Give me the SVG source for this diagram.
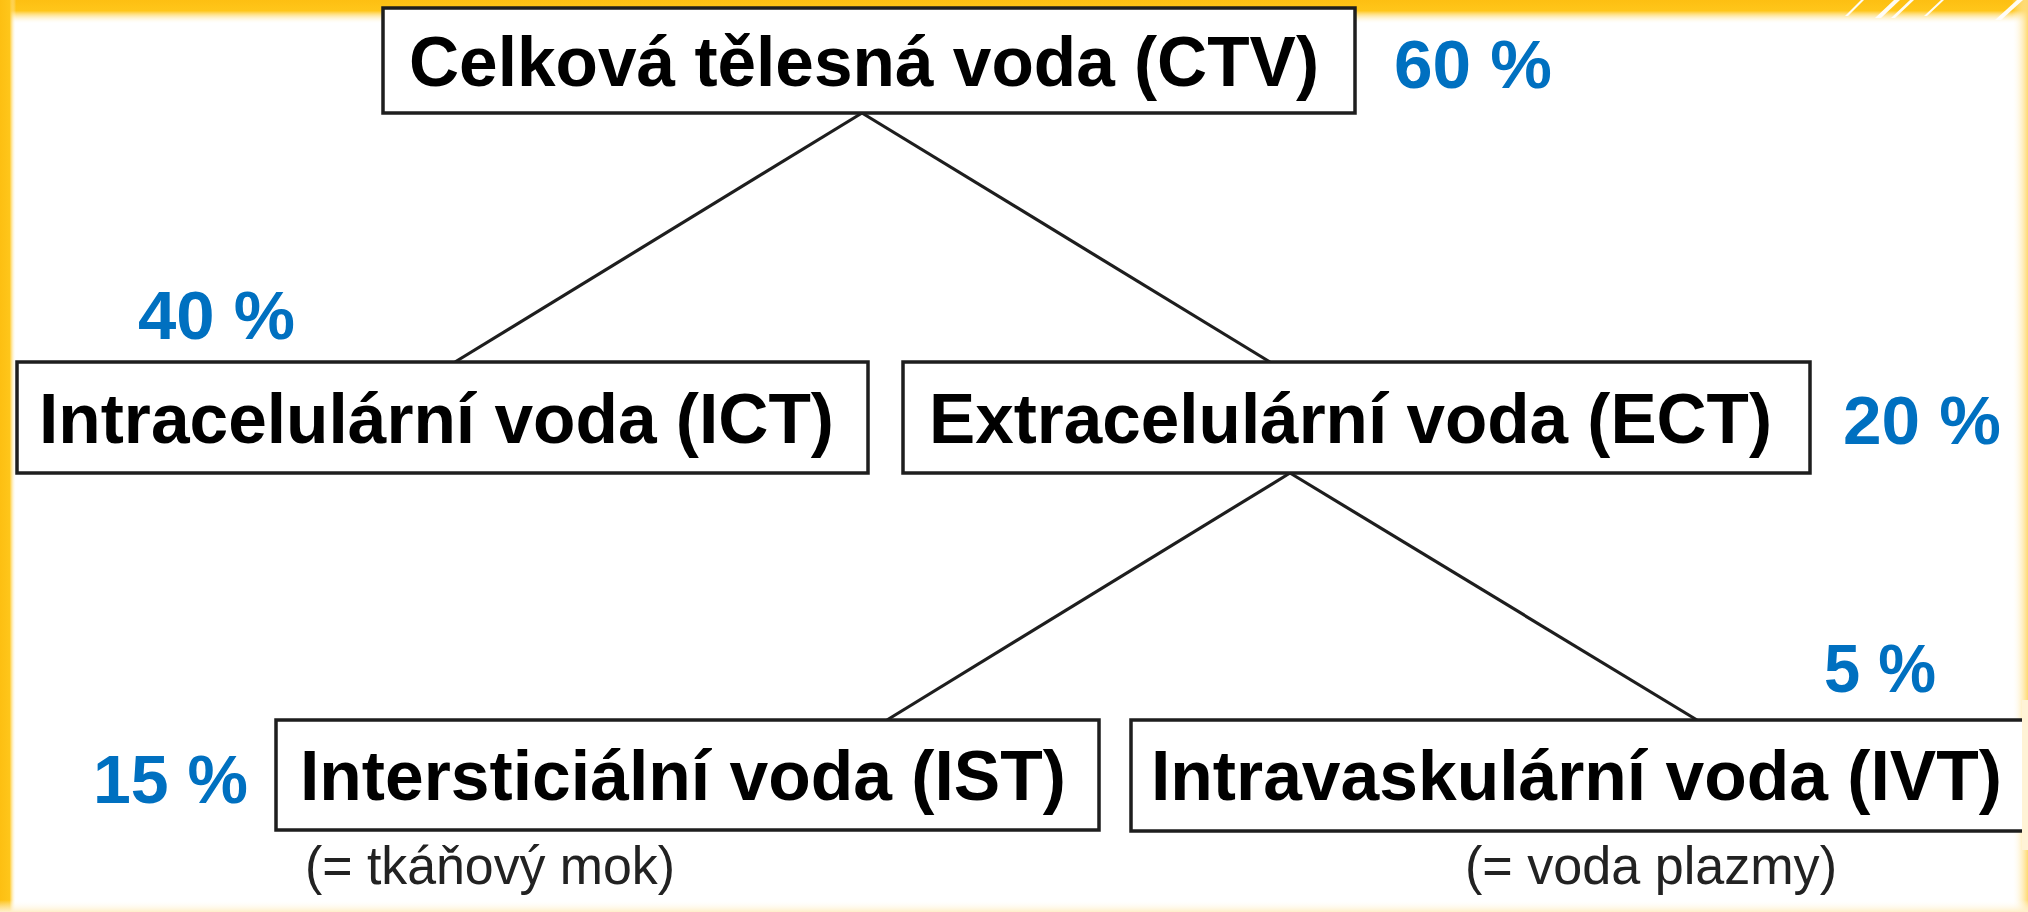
<svg xmlns="http://www.w3.org/2000/svg" width="2028" height="912" viewBox="0 0 2028 912">
  <defs>
    <linearGradient id="gTop" x1="0" y1="0" x2="0" y2="1">
      <stop offset="0" stop-color="#FDBF12"/>
      <stop offset="0.45" stop-color="#FFC61A"/>
      <stop offset="1" stop-color="#FFFFFF" stop-opacity="0"/>
    </linearGradient>
    <linearGradient id="gLeft" x1="0" y1="0" x2="1" y2="0">
      <stop offset="0" stop-color="#FDBF12"/>
      <stop offset="0.6" stop-color="#FFC61A"/>
      <stop offset="1" stop-color="#FFFFFF" stop-opacity="0"/>
    </linearGradient>
    <linearGradient id="gRight" x1="1" y1="0" x2="0" y2="0">
      <stop offset="0" stop-color="#FFD970"/>
      <stop offset="1" stop-color="#FFFFFF" stop-opacity="0"/>
    </linearGradient>
    <linearGradient id="gBottom" x1="0" y1="1" x2="0" y2="0">
      <stop offset="0" stop-color="#FFEFC8"/>
      <stop offset="1" stop-color="#FFFFFF" stop-opacity="0"/>
    </linearGradient>
  </defs>
  <style>
    .box { fill: #FFFFFF; stroke: #1E1E1E; stroke-width: 3.5; }
    .lbl { font-family: "Liberation Sans", Arial, sans-serif; font-weight: bold; font-size: 70px; fill: #000000; }
    .pct { font-family: "Liberation Sans", Arial, sans-serif; font-weight: bold; font-size: 69px; fill: #0070C0; }
    .sub { font-family: "Liberation Sans", Arial, sans-serif; font-size: 54px; fill: #222222; }
    .conn line { stroke: #1E1E1E; stroke-width: 3.2; }
  </style>

  <!-- background and frame -->
  <rect x="0" y="0" width="2028" height="912" fill="#FFFFFF"/>
  <rect x="0" y="0" width="2028" height="24" fill="url(#gTop)"/>
  <rect x="0" y="0" width="16" height="912" fill="url(#gLeft)"/>
  <rect x="2012" y="0" width="16" height="912" fill="url(#gRight)"/>
  <rect x="0" y="900" width="2028" height="12" fill="url(#gBottom)"/>
  <g fill="#FFFFFF" opacity="0.95">
    <polygon points="1845,16 1848,16 1864,0 1861,0"/>
    <polygon points="1875,18 1881,18 1900,0 1894,0"/>
    <polygon points="1891,18 1895,18 1914,0 1910,0"/>
    <polygon points="1924,16 1927,16 1944,0 1941,0"/>
    <polygon points="1995,20 2001,20 2023,0 2017,0"/>
  </g>

  <!-- connectors -->
  <g id="connectors" class="conn">
    <line x1="862" y1="113" x2="455" y2="362"/>
    <line x1="862" y1="113" x2="1270" y2="362"/>
    <line x1="1290" y1="473" x2="887" y2="720"/>
    <line x1="1290" y1="473" x2="1697" y2="720"/>
  </g>

  <!-- nodes -->
  <g id="ctv">
    <rect class="box" x="383" y="8" width="972" height="105"/>
    <text class="lbl" x="409" y="86" textLength="910" lengthAdjust="spacingAndGlyphs">Celková tělesná voda (CTV)</text>
  </g>
  <g id="ict">
    <rect class="box" x="17" y="362" width="851" height="111"/>
    <text class="lbl" x="39" y="443" textLength="795" lengthAdjust="spacingAndGlyphs">Intracelulární voda (ICT)</text>
  </g>
  <g id="ect">
    <rect class="box" x="903" y="362" width="907" height="111"/>
    <text class="lbl" x="929" y="443" textLength="843" lengthAdjust="spacingAndGlyphs">Extracelulární voda (ECT)</text>
  </g>
  <g id="ist">
    <rect class="box" x="276" y="720" width="823" height="110"/>
    <text class="lbl" x="300" y="800" textLength="766" lengthAdjust="spacingAndGlyphs">Intersticiální voda (IST)</text>
  </g>
  <g id="ivt">
    <rect class="box" x="1131" y="720" width="920" height="111"/>
    <text class="lbl" x="1151" y="800" textLength="851" lengthAdjust="spacingAndGlyphs">Intravaskulární voda (IVT)</text>
  </g>

  <!-- right frame edge over the IVT box overflow -->
  <rect x="2022" y="700" width="6" height="150" fill="#FFF3D6"/>

  <!-- percentages -->
  <g id="percentages">
    <text class="pct" x="1394" y="88" textLength="158" lengthAdjust="spacingAndGlyphs">60 %</text>
    <text class="pct" x="138" y="339" textLength="157" lengthAdjust="spacingAndGlyphs">40 %</text>
    <text class="pct" x="1843" y="444" textLength="158" lengthAdjust="spacingAndGlyphs">20 %</text>
    <text class="pct" x="1824" y="692" textLength="112" lengthAdjust="spacingAndGlyphs">5 %</text>
    <text class="pct" x="93" y="803" textLength="155" lengthAdjust="spacingAndGlyphs">15 %</text>
  </g>

  <!-- notes -->
  <g id="notes">
    <text class="sub" x="305" y="884" textLength="370" lengthAdjust="spacingAndGlyphs">(= tkáňový mok)</text>
    <text class="sub" x="1465" y="884" textLength="372" lengthAdjust="spacingAndGlyphs">(= voda plazmy)</text>
  </g>
</svg>
